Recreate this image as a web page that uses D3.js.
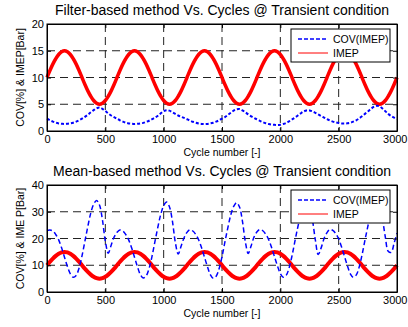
<!DOCTYPE html>
<html>
<head>
<meta charset="utf-8">
<script src="https://cdn.jsdelivr.net/npm/d3@7"></script>
<style>
  body { margin: 0; background: #fff; }
  svg { display: block; font-family: "Liberation Sans", Arial, sans-serif; }
</style>
</head>
<body>
<div id="chart"></div>
<script>
// sample grid (cycle number) shared by every series
const cycleStep = 25
const cycles = d3.range(0, 3001, cycleStep)

const xTicks = [0, 500, 1000, 1500, 2000, 2500, 3000]
const yTicksTop = [0, 5, 10, 15, 20]
const yTicksBottom = [0, 10, 20, 30, 40]

// IMEP [Bar] (same transient)
const imep = [
  10, 11.3, 12.5, 13.5, 14.3, 14.8, 15, 14.8, 14.3, 13.5, 12.5, 11.3, 10, 8.7, 7.5, 6.5, 5.7, 5.2, 5, 5.2, 5.7, 6.5, 7.5, 8.7,
  10, 11.3, 12.5, 13.5, 14.3, 14.8, 15, 14.8, 14.3, 13.5, 12.5, 11.3, 10, 8.7, 7.5, 6.5, 5.7, 5.2, 5, 5.2, 5.7, 6.5, 7.5, 8.7,
  10, 11.3, 12.5, 13.5, 14.3, 14.8, 15, 14.8, 14.3, 13.5, 12.5, 11.3, 10, 8.7, 7.5, 6.5, 5.7, 5.2, 5, 5.2, 5.7, 6.5, 7.5, 8.7,
  10, 11.3, 12.5, 13.5, 14.3, 14.8, 15, 14.8, 14.3, 13.5, 12.5, 11.3, 10, 8.7, 7.5, 6.5, 5.7, 5.2, 5, 5.2, 5.7, 6.5, 7.5, 8.7,
  10, 11.3, 12.5, 13.5, 14.3, 14.8, 15, 14.8, 14.3, 13.5, 12.5, 11.3, 10, 8.7, 7.5, 6.5, 5.7, 5.2, 5, 5.2, 5.7, 6.5, 7.5, 8.7,
  10
]

// COV(IMEP) [%], filter-based method
const covFilter = [
  2.3, 2.0, 1.75, 1.55, 1.42, 1.35, 1.3, 1.35, 1.42, 1.55, 1.75, 2.0, 2.3, 2.65, 3.05, 3.5, 3.9, 4.25, 4.4, 4.15, 3.75, 3.3, 2.9, 2.6,
  2.3, 2.0, 1.75, 1.55, 1.42, 1.35, 1.3, 1.35, 1.42, 1.52, 1.7, 1.92, 2.2, 2.5, 2.85, 3.3, 3.7, 3.9, 3.8, 3.5, 3.2, 2.9, 2.65, 2.45,
  2.2, 1.95, 1.72, 1.55, 1.42, 1.33, 1.3, 1.33, 1.42, 1.55, 1.75, 2.0, 2.3, 2.6, 3.0, 3.4, 3.8, 4.05, 4.1, 3.85, 3.5, 3.1, 2.75, 2.45,
  2.15, 1.9, 1.65, 1.45, 1.3, 1.2, 1.15, 1.1, 1.15, 1.3, 1.5, 1.8, 2.15, 2.5, 2.9, 3.3, 3.65, 3.85, 3.85, 3.65, 3.4, 3.1, 2.8, 2.5,
  2.2, 1.95, 1.75, 1.6, 1.48, 1.42, 1.4, 1.45, 1.55, 1.75, 2.0, 2.35, 2.75, 3.2, 3.65, 4.1, 4.5, 4.7, 4.6, 4.2, 3.7, 3.2, 2.8, 2.5,
  2.2
]

// COV(IMEP) [%], mean-based method
const covMean = [
  23.0, 23.2, 22.8, 21.5, 19.5, 16.5, 13, 9.5, 6.8, 5.5, 6.2, 9, 13.5, 19, 24.5, 29.5, 32.8, 34.2, 32.5, 27, 19, 14.5, 17.5, 20.5,
  22.3, 23.2, 22.8, 21.5, 19.5, 16.5, 13, 9.5, 6.5, 5.2, 6, 8.8, 13.3, 18.8, 24.2, 29, 32.3, 33.6, 31.8, 26.5, 18.5, 14.2, 17.2, 20.3,
  22.3, 23.3, 22.8, 21.5, 19.5, 16.5, 13, 9.5, 6.5, 5.1, 5.9, 8.7, 13.2, 18.7, 24, 28.8, 32, 33.4, 31.8, 26.5, 18.8, 14.4, 17.3, 20.6,
  22.5, 23.4, 22.9, 21.6, 19.6, 16.6, 13.2, 9.8, 6.9, 5.5, 6.2, 9, 13.5, 19, 24.3, 29, 32.2, 33.4, 31.8, 27, 19.5, 14, 16.5, 20,
  22.2, 23.4, 23, 21.8, 19.8, 16.8, 13.3, 9.8, 6.8, 5.5, 6.3, 9.2, 13.8, 19.3, 24.5, 29.3, 32.5, 33.8, 32.5, 27.5, 20.5, 15.2, 14.8, 18.2,
  22
]

const width = 408
const height = 327

const svg = d3.select('#chart')
  .append('svg')
  .attr('width', width)
  .attr('height', height)

svg.append('rect').attr('width', width).attr('height', height).attr('fill', '#fff')

function drawPanel (opt) {
  const x = d3.scaleLinear().domain([0, 3000]).range([47, 397])
  const y = d3.scaleLinear().domain(opt.yDomain).range([opt.bottom, opt.top])
  const g = svg.append('g')

  // grid
  g.append('g')
    .selectAll('line')
    .data(xTicks.slice(1, -1))
    .enter().append('line')
    .attr('x1', d => x(d)).attr('x2', d => x(d))
    .attr('y1', opt.top).attr('y2', opt.bottom)
    .attr('stroke', '#222').attr('stroke-dasharray', '8,5')
  g.append('g')
    .selectAll('line')
    .data(opt.yTicks.slice(1, -1))
    .enter().append('line')
    .attr('y1', d => y(d)).attr('y2', d => y(d))
    .attr('x1', 47).attr('x2', 397)
    .attr('stroke', '#222').attr('stroke-dasharray', '8,5')

  // series
  const seriesLine = d3.line()
    .x((d, i) => x(cycles[i]))
    .y(d => y(d))
    .curve(d3.curveCatmullRom)
  g.append('path')
    .attr('d', seriesLine(imep))
    .attr('fill', 'none')
    .attr('stroke', '#ff0000')
    .attr('stroke-width', opt.imepWidth)
  g.append('path')
    .attr('d', seriesLine(opt.cov))
    .attr('fill', 'none')
    .attr('stroke', '#0000ff')
    .attr('stroke-width', opt.covWidth)
    .attr('stroke-dasharray', opt.covDash)

  // axes (MATLAB style, ticks inside, box on)
  const fmt = d3.format('d')
  const xAxis = g.append('g')
    .attr('transform', `translate(0,${opt.bottom})`)
    .call(d3.axisBottom(x).tickValues(xTicks).tickFormat(fmt).tickSizeInner(-4).tickSizeOuter(0).tickPadding(4))
  g.append('g')
    .attr('transform', `translate(0,${opt.top})`)
    .call(d3.axisTop(x).tickValues(xTicks).tickSizeInner(-4).tickSizeOuter(0).tickFormat(''))
  g.append('g')
    .attr('transform', 'translate(47,0)')
    .call(d3.axisLeft(y).tickValues(opt.yTicks).tickFormat(fmt).tickSizeInner(-4).tickSizeOuter(0).tickPadding(3))
  g.append('g')
    .attr('transform', 'translate(397,0)')
    .call(d3.axisRight(y).tickValues(opt.yTicks).tickSizeInner(-4).tickSizeOuter(0).tickFormat(''))
  g.selectAll('.domain').attr('stroke', '#000')
  g.selectAll('.tick text')
    .attr('font-size', 11)
    .attr('font-family', '"Liberation Sans", Arial, sans-serif')
    .attr('fill', '#000')
  // last label sits against the page edge, as in the original
  xAxis.selectAll('.tick text')
    .filter(d => d === 3000)
    .attr('text-anchor', 'end')
    .attr('x', 10)

  g.append('rect')
    .attr('x', 47).attr('y', opt.top)
    .attr('width', 350).attr('height', opt.bottom - opt.top)
    .attr('fill', 'none').attr('stroke', '#000')

  // texts
  g.append('text')
    .attr('x', 222).attr('y', opt.top - 9)
    .attr('text-anchor', 'middle')
    .attr('font-size', 14)
    .text(opt.title)
  g.append('text')
    .attr('x', 222).attr('y', opt.bottom + 25)
    .attr('text-anchor', 'middle')
    .attr('font-size', 10.5)
    .text('Cycle number [-]')
  g.append('text')
    .attr('transform', `translate(24,${(opt.top + opt.bottom) / 2}) rotate(-90)`)
    .attr('text-anchor', 'middle')
    .attr('font-size', 10.5)
    .text(opt.yLabel)

  // legend
  const lg = g.append('g').attr('transform', `translate(291,${opt.top + 5})`)
  lg.append('rect')
    .attr('width', 99).attr('height', 33)
    .attr('fill', '#fff').attr('stroke', '#000')
  const items = [
    { name: 'COV(IMEP)', color: '#0000ff', dash: '4,2', w: 1.5 },
    { name: 'IMEP', color: '#ff0000', dash: null, w: 1 }
  ]
  items.forEach((it, i) => {
    const yy = 10 + i * 14
    lg.append('line')
      .attr('x1', 7).attr('x2', 37).attr('y1', yy).attr('y2', yy)
      .attr('stroke', it.color).attr('stroke-width', it.w)
      .attr('stroke-dasharray', it.dash)
    lg.append('text')
      .attr('x', 42).attr('y', yy + 4)
      .attr('font-size', 10.5)
      .text(it.name)
  })
}

drawPanel({
  top: 24,
  bottom: 131,
  yDomain: [0, 20],
  yTicks: yTicksTop,
  cov: covFilter,
  covWidth: 2,
  covDash: '3,2',
  imepWidth: 3.5,
  title: 'Filter-based method Vs. Cycles @ Transient condition',
  yLabel: 'COV[%]  & IMEP[Bar]'
})

drawPanel({
  top: 185,
  bottom: 292,
  yDomain: [0, 40],
  yTicks: yTicksBottom,
  cov: covMean,
  covWidth: 1.5,
  covDash: '5,3',
  imepWidth: 4,
  title: 'Mean-based method Vs. Cycles @ Transient condition',
  yLabel: 'COV[%]  & IME P[Bar]'
})
</script>
</body>
</html>
